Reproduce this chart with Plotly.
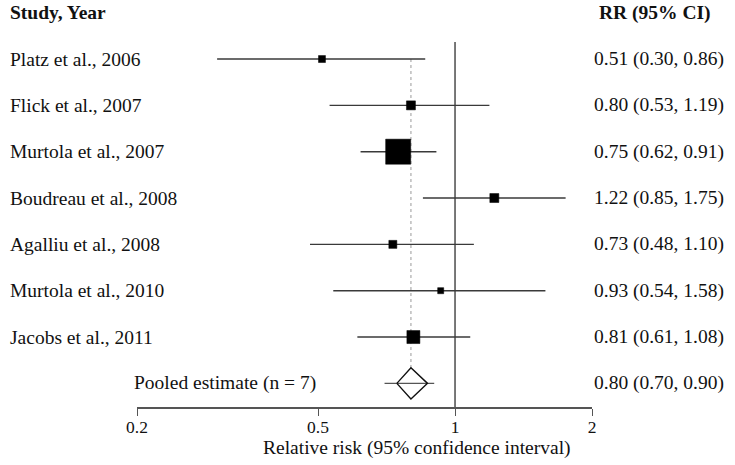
import math

import plotly.graph_objects as go

# Study data
studies = [
    "Platz et al., 2006",
    "Flick et al., 2007",
    "Murtola et al., 2007",
    "Boudreau et al., 2008",
    "Agalliu et al., 2008",
    "Murtola et al., 2010",
    "Jacobs et al., 2011",
]
rr = [0.51, 0.80, 0.75, 1.22, 0.73, 0.93, 0.81]
ci_low = [0.30, 0.53, 0.62, 0.85, 0.48, 0.54, 0.61]
ci_high = [0.86, 1.19, 0.91, 1.75, 1.10, 1.58, 1.08]
weights = [4.4, 7.3, 56.6, 7.3, 5.8, 3.3, 15.3]  # percent, estimated from square areas

pooled_label = "Pooled estimate (n = 7)"
pooled_rr = 0.80
pooled_low = 0.70
pooled_high = 0.90
diamond_low = 0.745
diamond_high = 0.87

tick_vals = [0.2, 0.5, 1, 2]
tick_text = ["0.2", "0.5", "1", "2"]

FONT = "Liberation Serif"
TEXT_COLOR = "#111111"
FS = 19.5
TICK_FS = 17.5

rows = list(range(1, len(studies) + 1))
pooled_row = len(studies) + 1
Y_BOTTOM = 8.51  # row value at the x axis line


def fmt_ci(est, lo, hi):
    return f"{est:.2f} ({lo:.2f}, {hi:.2f})"


fig = go.Figure()

# confidence interval lines
line_x, line_y = [], []
for lo, hi, r in zip(ci_low, ci_high, rows):
    line_x += [lo, hi, None]
    line_y += [r, r, None]
fig.add_trace(
    go.Scatter(
        x=line_x, y=line_y, mode="lines",
        line=dict(color="#3a3a3a", width=1.4),
        hoverinfo="skip", showlegend=False,
    )
)

# point estimates, square size scaled by weight
fig.add_trace(
    go.Scatter(
        x=rr, y=rows, mode="markers",
        marker=dict(
            symbol="square",
            size=[3.33 * math.sqrt(w) for w in weights],
            color="#000000",
            opacity=1,
            line=dict(width=0.5, color="#000000"),
        ),
        showlegend=False,
    )
)

# pooled estimate: horizontal line + hollow diamond
h = 0.335
fig.add_trace(
    go.Scatter(
        x=[pooled_low, pooled_high], y=[pooled_row, pooled_row], mode="lines",
        line=dict(color="#555555", width=1.4),
        hoverinfo="skip", showlegend=False,
    )
)
fig.add_trace(
    go.Scatter(
        x=[diamond_low, pooled_rr, diamond_high, pooled_rr, diamond_low],
        y=[pooled_row, pooled_row - h, pooled_row, pooled_row + h, pooled_row],
        mode="lines",
        line=dict(color="#111111", width=1.4),
        hoverinfo="skip", showlegend=False,
    )
)

# reference lines
fig.add_shape(
    type="line", xref="x", yref="y",
    x0=1, x1=1, y0=0.63, y1=Y_BOTTOM,
    line=dict(color="#6a6a6a", width=1.8),
    layer="below",
)
fig.add_shape(
    type="line", xref="x", yref="y",
    x0=pooled_rr, x1=pooled_rr, y0=1, y1=pooled_row - h,
    line=dict(color="#999999", width=1, dash="3px,3px"),
    layer="below",
)

# text columns
annotations = [
    dict(x=8 / 735, y=0, text="<b>Study, Year</b>", xanchor="left"),
    dict(x=597 / 735, y=0, text="<b>RR (95% CI)</b>", xanchor="left"),
]
for name, est, lo, hi, r in zip(studies, rr, ci_low, ci_high, rows):
    annotations.append(dict(x=8 / 735, y=r, text=name, xanchor="left"))
    annotations.append(dict(x=592 / 735, y=r, text=fmt_ci(est, lo, hi), xanchor="left"))
annotations.append(dict(x=132 / 735, y=pooled_row, text=pooled_label, xanchor="left"))
annotations.append(
    dict(x=592 / 735, y=pooled_row, text=fmt_ci(pooled_rr, pooled_low, pooled_high), xanchor="left")
)
for a in annotations:
    a.update(xref="paper", yref="y", yanchor="middle", showarrow=False,
             font=dict(family=FONT, size=FS, color=TEXT_COLOR))

annotations.append(
    dict(
        x=417 / 735, y=1 - 448 / 465, xref="paper", yref="paper",
        text="Relative risk (95% confidence interval)",
        showarrow=False, xanchor="center", yanchor="middle",
        font=dict(family=FONT, size=FS, color=TEXT_COLOR),
    )
)

fig.update_layout(
    width=735,
    height=465,
    margin=dict(l=0, r=0, t=0, b=0, autoexpand=False),
    paper_bgcolor="white",
    plot_bgcolor="white",
    showlegend=False,
    annotations=annotations,
    xaxis=dict(
        type="log",
        range=[math.log10(0.2), math.log10(2)],
        domain=[137 / 735, 592 / 735],
        automargin=False,
        tickvals=tick_vals,
        ticktext=tick_text,
        ticks="outside",
        ticklen=7,
        tickwidth=1.4,
        tickcolor="#555555",
        ticklabelstandoff=-4,
        showline=True,
        linecolor="#555555",
        linewidth=1.6,
        showgrid=False,
        zeroline=False,
        tickfont=dict(family=FONT, size=TICK_FS, color=TEXT_COLOR),
    ),
    yaxis=dict(
        range=[Y_BOTTOM, -0.274],
        domain=[58 / 465, 1],
        automargin=False,
        visible=False,
        showgrid=False,
        zeroline=False,
    ),
)

fig.write_html(
    "out.html",
    config={"displayModeBar": False},
    post_script="document.body.style.margin='0';",
)
